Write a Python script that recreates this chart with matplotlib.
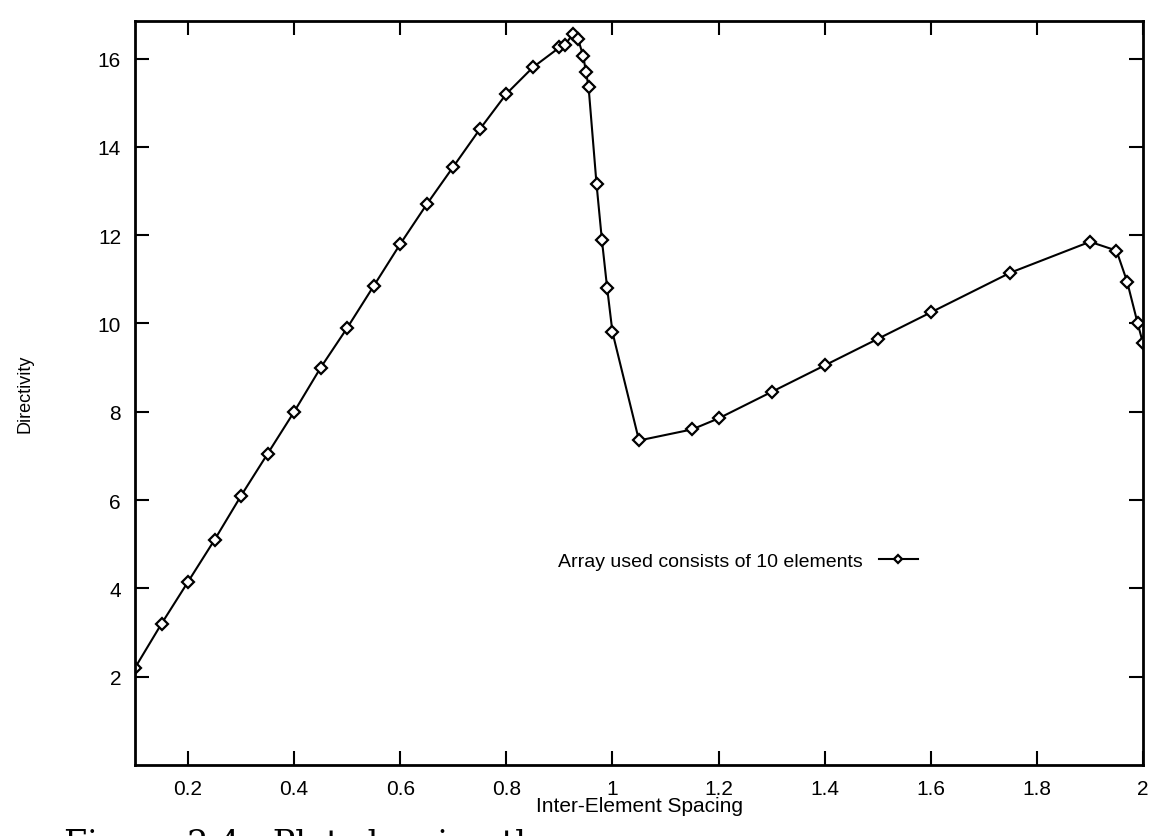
import matplotlib
matplotlib.use('Agg')
import matplotlib.pyplot as plt

# inter-element spacing (wavelengths) and directivity of the 10 element array
spacing = [0.1, 0.15, 0.2, 0.25, 0.3, 0.35, 0.4, 0.45, 0.5, 0.55, 0.6, 0.65,
           0.7, 0.75, 0.8, 0.85, 0.9, 0.91, 0.925, 0.935, 0.945, 0.95, 0.955,
           0.97, 0.98, 0.99, 1.0, 1.05, 1.15, 1.2, 1.3, 1.4, 1.5, 1.6, 1.75,
           1.9, 1.95, 1.97, 1.99, 2.0]
directivity = [2.2, 3.2, 4.15, 5.1, 6.1, 7.05, 8.0, 9.0, 9.9, 10.85, 11.8, 12.7,
               13.55, 14.4, 15.2, 15.8, 16.25, 16.3, 16.55, 16.45, 16.05, 15.7, 15.35,
               13.15, 11.9, 10.8, 9.8, 7.35, 7.6, 7.85, 8.45, 9.05, 9.65, 10.25, 11.15,
               11.85, 11.65, 10.95, 10.0, 9.55]

x_ticks = [0.2, 0.4, 0.6, 0.8, 1.0, 1.2, 1.4, 1.6, 1.8, 2.0]
x_labels = ['0.2', '0.4', '0.6', '0.8', '1', '1.2', '1.4', '1.6', '1.8', '2']
y_ticks = [2, 4, 6, 8, 10, 12, 14, 16]

plt.rcParams['font.family'] = ['Liberation Sans', 'DejaVu Sans']

fig = plt.figure(figsize=(11.56, 8.37), dpi=100)
ax = fig.add_axes([135 / 1156, 1 - 766 / 837, 1008 / 1156, 744 / 837])

ax.plot(spacing, directivity, color='black', linewidth=1.5,
        marker='D', markersize=6, markerfacecolor='white',
        markeredgecolor='black', markeredgewidth=1.6,
        label='Array used consists of 10 elements')

ax.set_xlim(0.1, 2.0)
ax.set_ylim(0, 16.85)
ax.set_xticks(x_ticks)
ax.set_xticklabels(x_labels)
ax.set_yticks(y_ticks)
ax.tick_params(direction='in', length=10, width=1.5, top=True, right=True,
               labelsize=15, pad=10)
for side in ax.spines.values():
    side.set_linewidth(2)

ax.set_xlabel('Inter-Element Spacing', fontsize=15, labelpad=-1)
ax.set_ylabel('Directivity', fontsize=13, labelpad=46)

ax.legend(loc='center right', bbox_to_anchor=(935 / 1156, 1 - 562 / 837),
          bbox_transform=fig.transFigure, frameon=False, markerfirst=False,
          fontsize=14, handlelength=2.0, handletextpad=0.8, markerscale=0.7)

# caption of the scanned page, cut off by the lower edge
fig.text(0.055, -0.01, 'Figure 2.4:  Plot showing the', fontsize=24,
         family='DejaVu Serif', va='center', ha='left')

fig.savefig('out.png', dpi=100)
